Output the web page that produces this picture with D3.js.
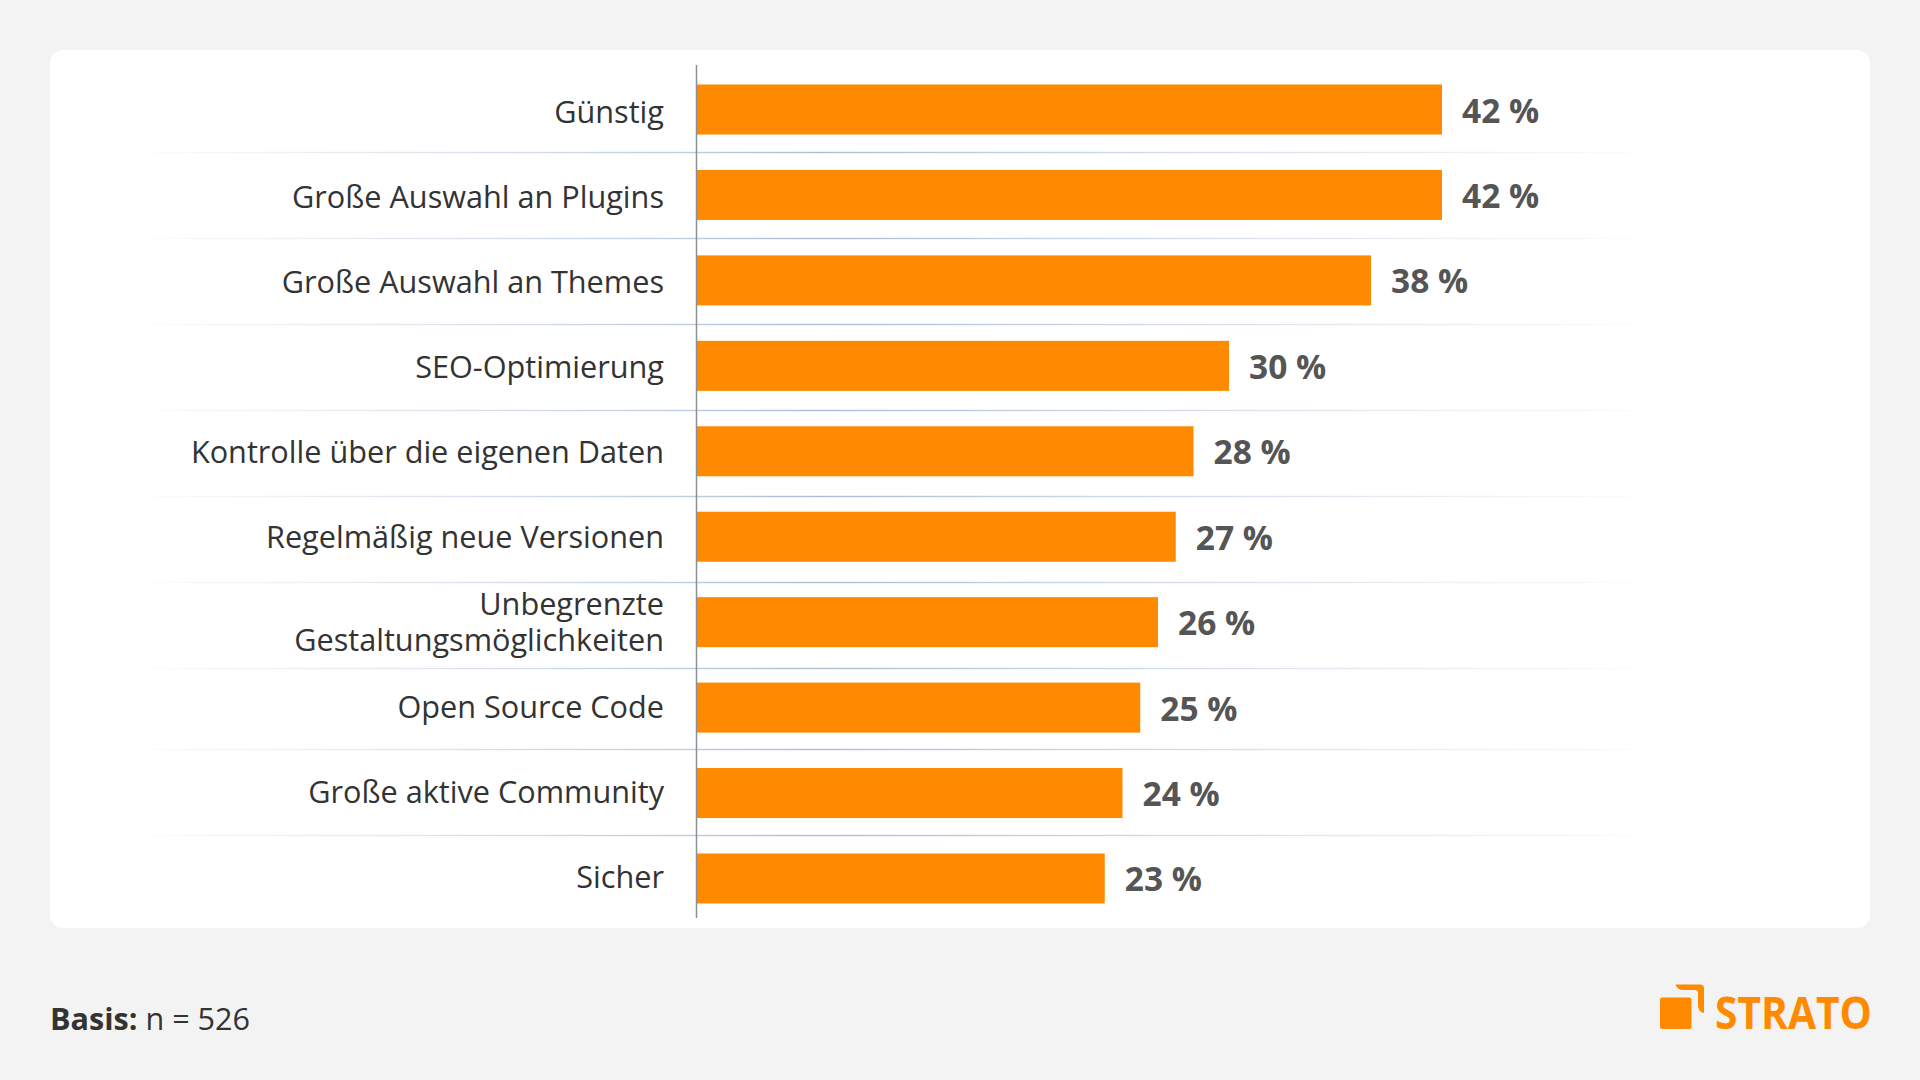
<!doctype html>
<html>
<head>
<meta charset="utf-8">
<script src="https://d3js.org/d3.v7.min.js"></script>
<style>
    html, body { margin: 0; padding: 0; background: #f3f3f3; }
    svg { display: block; }
</style>
</head>
<body>
<svg width="1920" height="1080" id="chart"></svg>
<script>
// values
var categories = [
    "Günstig",
    "Große Auswahl an Plugins",
    "Große Auswahl an Themes",
    "SEO-Optimierung",
    "Kontrolle über die eigenen Daten",
    "Regelmäßig neue Versionen",
    "Unbegrenzte Gestaltungsmöglichkeiten",
    "Open Source Code",
    "Große aktive Community",
    "Sicher"
];
var shares = [42, 42, 38, 30, 28, 27, 26, 25, 24, 23];
var wrappedLabels = { "Unbegrenzte Gestaltungsmöglichkeiten": ["Unbegrenzte", "Gestaltungsmöglichkeiten"] };

var orange = "#ff8a00";
var font = "'Open Sans', sans-serif";

var svg = d3.select("#chart");

// card
svg.append("rect")
    .attr("x", 50).attr("y", 50)
    .attr("width", 1820).attr("height", 878)
    .attr("rx", 13)
    .attr("fill", "#fff");

var xScale = d3.scaleLinear().domain([0, 42]).range([696.5, 1442]);
var yScale = d3.scaleBand().domain(categories).range([84.5, 903.5]).paddingInner(0.4145).paddingOuter(0);
// labels and separators do not follow the bars exactly
var labelScale = d3.scalePoint().domain(categories).range([112.9, 877.5]);
var separatorScale = d3.scaleLinear().domain([0, 6, 7, 8]).range([152.5, 668.5, 749.5, 835.5]);

// row separators fade out at both ends
var fade = svg.append("defs").append("linearGradient")
    .attr("id", "rowFade")
    .attr("gradientUnits", "userSpaceOnUse")
    .attr("x1", 155).attr("x2", 1629).attr("y1", 0).attr("y2", 0);
fade.append("stop").attr("offset", 0).attr("stop-color", "#c3cfe0").attr("stop-opacity", 0.1);
fade.append("stop").attr("offset", 0.45).attr("stop-color", "#adbdd5").attr("stop-opacity", 1);
fade.append("stop").attr("offset", 1).attr("stop-color", "#c3cfe0").attr("stop-opacity", 0.1);

svg.append("g").selectAll("rect")
    .data(d3.range(categories.length - 1))
    .enter()
    .append("rect")
    .attr("x", 155)
    .attr("width", 1474)
    .attr("height", 1.4)
    .attr("y", function (d) { return separatorScale(d) - 0.7; })
    .attr("fill", "url(#rowFade)");

// bars
svg.append("g").selectAll("rect")
    .data(categories)
    .enter()
    .append("rect")
    .attr("x", xScale(0))
    .attr("y", function (d) { return yScale(d); })
    .attr("width", function (d, i) { return xScale(shares[i]) - xScale(0); })
    .attr("height", yScale.bandwidth())
    .attr("fill", orange);

// axis line runs past the bars
svg.append("line")
    .attr("x1", xScale(0)).attr("x2", xScale(0))
    .attr("y1", 65).attr("y2", 918)
    .attr("stroke", "#8a9097")
    .attr("stroke-width", 1.5);

// category labels
var yAxis = svg.append("g")
    .attr("transform", "translate(" + xScale(0) + ",0)")
    .call(d3.axisLeft(labelScale).tickSize(0).tickPadding(32.5));
yAxis.select(".domain").remove();
yAxis.selectAll("text")
    .style("font-family", font)
    .style("font-size", "30.65px")
    .attr("fill", "#333")
    .each(function (d) {
        var lines = wrappedLabels[d];
        if (!lines) return;
        var t = d3.select(this).text(null);
        // the first tspan's dy replaces the one the axis put on the text
        lines.forEach(function (line, i) {
            t.append("tspan")
                .attr("x", t.attr("x"))
                .attr("dy", i == 0 ? -7.7 : 36)
                .text(line);
        });
    });

// value labels
svg.append("g").selectAll("text")
    .data(categories)
    .enter()
    .append("text")
    .attr("x", function (d, i) { return xScale(shares[i]) + 20; })
    .attr("y", function (d) { return yScale(d) + yScale.bandwidth() / 2 + 13; })
    .style("font-family", font)
    .style("font-size", "33.5px")
    .style("font-weight", 700)
    .attr("fill", "#555")
    .text(function (d, i) { return shares[i] + " %"; });

// footer
var basis = svg.append("text")
    .attr("x", 50).attr("y", 1030)
    .style("font-family", font)
    .style("font-size", "30.6px")
    .attr("fill", "#333");
basis.append("tspan").style("font-weight", 700).text("Basis:");
basis.append("tspan").text(" n = 526");

// logo
var logo = svg.append("g");
logo.append("rect")
    .attr("x", 1660).attr("y", 997.5)
    .attr("width", 31.5).attr("height", 31.5)
    .attr("rx", 2)
    .attr("fill", orange);
logo.append("path")
    .attr("d", "M1675.5,984.5H1700a4,4 0 0 1 4,4V1013a7,7 0 0 1 -6,-7V993a3,3 0 0 0 -3,-3H1683a8,8 0 0 1 -7.5,-5.5Z")
    .attr("fill", orange);
logo.append("text")
    .attr("x", 1715).attr("y", 1029.3)
    .attr("textLength", 157)
    .attr("lengthAdjust", "spacingAndGlyphs")
    .style("font-family", font)
    .style("font-size", "45px")
    .style("font-weight", 700)
    .attr("fill", orange)
    .text("STRATO");
</script>
</body>
</html>
